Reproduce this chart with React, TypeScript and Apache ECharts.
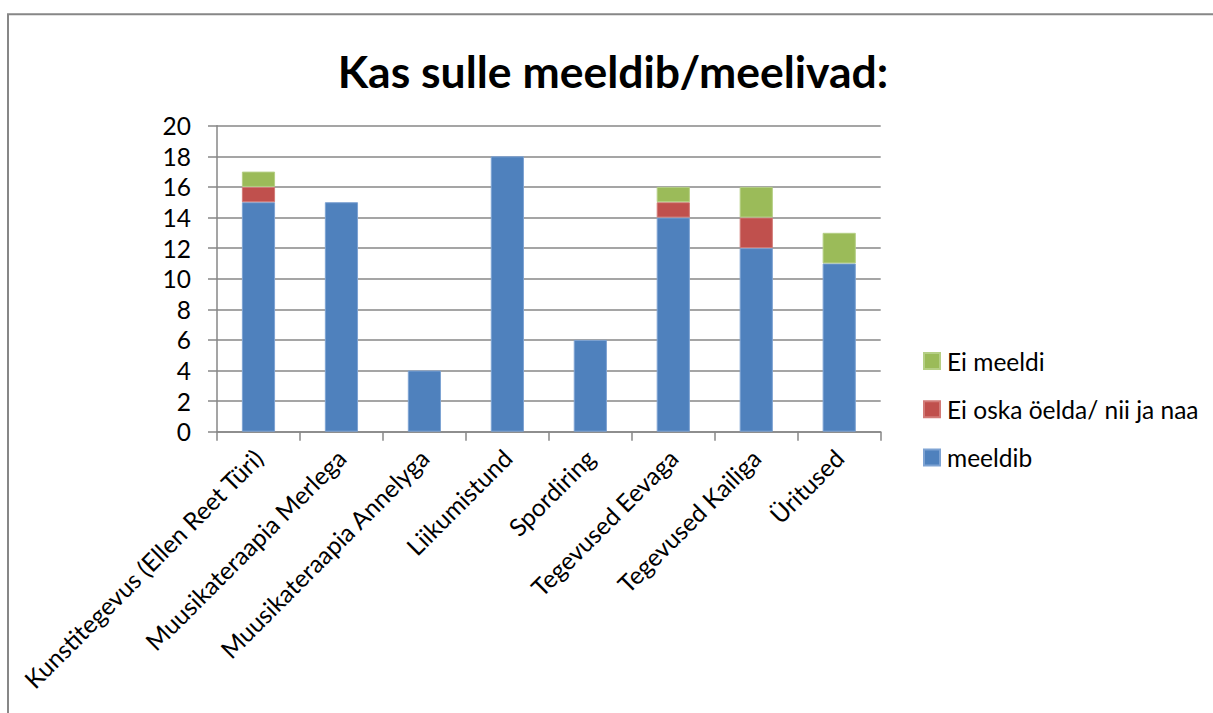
import React, { useEffect, useRef } from "react";
import * as echarts from "echarts";

const categories = [
  "Kunstitegevus (Ellen Reet Türi)",
  "Muusikateraapia Merlega",
  "Muusikateraapia Annelyga",
  "Liikumistund",
  "Spordiring",
  "Tegevused Eevaga",
  "Tegevused Kailiga",
  "Üritused",
];
const meeldib = [15, 15, 4, 18, 6, 14, 12, 11];
const eiOska = [1, 0, 0, 0, 0, 1, 2, 0];
const eiMeeldi = [1, 0, 0, 0, 0, 1, 2, 2];
const seriesNames = ["meeldib", "Ei oska öelda/ nii ja naa", "Ei meeldi"];
const titleText = "Kas sulle meeldib/meelivad:";

const FONT = "Lato, 'Open Sans', sans-serif";
const FS = 24.5;

export default function App() {
  const ref = useRef<HTMLDivElement>(null);
  useEffect(() => {
    if (!ref.current) return;
    const chart = echarts.init(ref.current, null, { renderer: "svg" });
    const mk = (name: string, data: number[], color: string, border: string) => ({
      name,
      type: "bar",
      stack: "total",
      data: data.map((v) => (v === 0 ? null : v)),
      barWidth: "40%",
      itemStyle: { color, borderColor: border, borderWidth: 1 },
      emphasis: { disabled: true },
    });
    chart.setOption({
      animation: false,
      backgroundColor: "#ffffff",
      textStyle: { fontFamily: FONT },
      graphic: [
        {
          type: "rect",
          shape: { x: 8, y: 14.3, width: 1400, height: 900 },
          style: { fill: "none", stroke: "#878787", lineWidth: 2 },
          silent: true,
        },
        {
          type: "text",
          x: 613,
          y: 70,
          style: {
            text: titleText,
            font: `bold 44.5px ${FONT}`,
            fill: "#000000",
            textAlign: "center",
            textVerticalAlign: "middle",
          },
        },
      ],
      legend: {
        orient: "vertical",
        left: 918,
        top: 343.5,
        itemWidth: 16,
        itemHeight: 16,
        itemGap: 23.3,
        icon: "rect",
        data: ["Ei meeldi", "Ei oska öelda/ nii ja naa", "meeldib"],
        textStyle: {
          fontFamily: FONT,
          fontSize: FS,
          lineHeight: 16,
          color: "#000",
          padding: [0, 0, 0, 2],
        },
        selectedMode: false,
      },
      grid: { left: 217, right: 332.3, top: 125.7, bottom: 281.3, containLabel: false },
      xAxis: {
        type: "category",
        data: categories,
        boundaryGap: true,
        axisLine: { show: true, lineStyle: { color: "#878787", width: 1.5 } },
        axisTick: { show: true, length: 9, lineStyle: { color: "#878787", width: 1.5 } },
        axisLabel: {
          rotate: 45,
          interval: 0,
          margin: 22,
          fontSize: FS,
          color: "#000",
          fontFamily: FONT,
        },
      },
      yAxis: {
        type: "value",
        min: 0,
        max: 20,
        interval: 2,
        axisLine: { show: true, lineStyle: { color: "#878787", width: 1.5 } },
        axisTick: { show: true, length: 9, lineStyle: { color: "#878787", width: 1.5 } },
        splitLine: { show: true, lineStyle: { color: "#878787", width: 1.5 } },
        axisLabel: { fontSize: FS, color: "#000", margin: 26, fontFamily: FONT },
      },
      series: [
        mk(seriesNames[0], meeldib, "#4F81BD", "#7EA3D3"),
        mk(seriesNames[1], eiOska, "#C0504D", "#D27B78"),
        mk(seriesNames[2], eiMeeldi, "#9BBB59", "#B5CF85"),
      ],
    });
    return () => chart.dispose();
  }, []);
  return (
    <div
      ref={ref}
      style={{ position: "absolute", left: 0, top: 0, width: 1213, height: 713 }}
    />
  );
}
